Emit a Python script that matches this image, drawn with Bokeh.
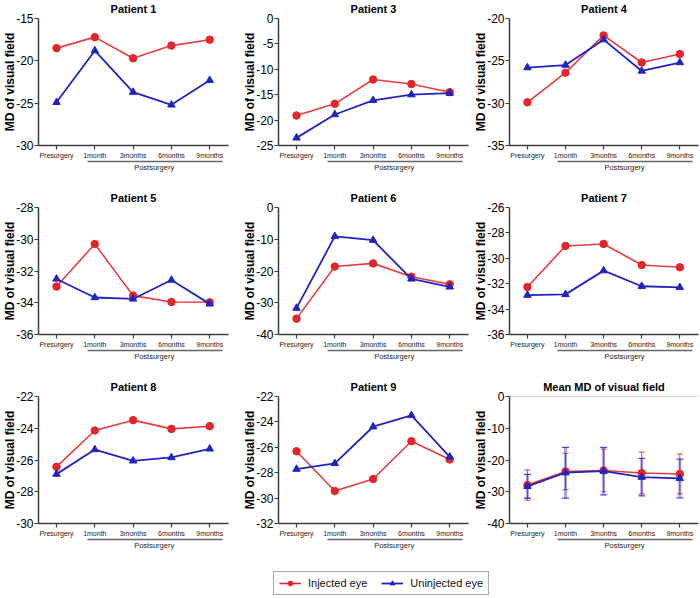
from bokeh.plotting import figure
from bokeh.layouts import gridplot, column
from bokeh.models import (FixedTicker, LinearAxis, Range1d, Legend, LegendItem,
                          Whisker, ColumnDataSource, Span, TeeHead)
from bokeh.embed import file_html
from bokeh.resources import INLINE

# ---------------- data ----------------
timepoints = ["Presurgery", "1month", "3months", "6months", "9months"]
post_label = "Postsurgery"
series_names = ["Injected eye", "Uninjected eye"]

p1_title = "Patient 1"
p1_inj = [-18.5, -17.2, -19.7, -18.2, -17.5]
p1_uninj = [-24.9, -18.8, -23.7, -25.2, -22.3]
p1_yticks = [-30, -25, -20, -15]

p3_title = "Patient 3"
p3_inj = [-19.1, -16.8, -12.0, -12.9, -14.5]
p3_uninj = [-23.5, -18.9, -16.1, -15.0, -14.7]
p3_yticks = [-25, -20, -15, -10, -5, 0]

p4_title = "Patient 4"
p4_inj = [-29.9, -26.4, -22.0, -25.2, -24.2]
p4_uninj = [-25.8, -25.5, -22.5, -26.2, -25.2]
p4_yticks = [-35, -30, -25, -20]

p5_title = "Patient 5"
p5_inj = [-32.98, -30.3, -33.55, -33.95, -33.97]
p5_uninj = [-32.5, -33.67, -33.76, -32.57, -34.07]
p5_yticks = [-36, -34, -32, -30, -28]

p6_title = "Patient 6"
p6_inj = [-35.0, -18.6, -17.6, -21.8, -24.2]
p6_uninj = [-31.7, -9.1, -10.3, -22.5, -25.0]
p6_yticks = [-40, -30, -20, -10, 0]

p7_title = "Patient 7"
p7_inj = [-32.26, -29.03, -28.87, -30.53, -30.71]
p7_uninj = [-32.9, -32.84, -30.97, -32.2, -32.29]
p7_yticks = [-36, -34, -32, -30, -28, -26]

p8_title = "Patient 8"
p8_inj = [-26.43, -24.14, -23.49, -24.04, -23.87]
p8_uninj = [-26.89, -25.34, -26.05, -25.84, -25.30]
p8_yticks = [-30, -28, -26, -24, -22]

p9_title = "Patient 9"
p9_inj = [-26.31, -29.44, -28.5, -25.52, -26.96]
p9_uninj = [-27.72, -27.27, -24.38, -23.49, -26.75]
p9_yticks = [-32, -30, -28, -26, -24, -22]

mean_title = "Mean MD of visual field"
mean_inj = [-27.9, -23.6, -23.3, -24.1, -24.4]
mean_inj_sd = [4.8, 5.7, 6.7, 6.6, 6.3]
mean_uninj = [-28.3, -24.0, -23.5, -25.4, -25.8]
mean_uninj_sd = [3.75, 8.0, 7.5, 5.9, 6.1]
mean_yticks = [-40, -30, -20, -10, 0]

# ---------------- style ----------------
RED = "#e3262b"
BLUE = "#2323c0"
AXIS = "#3c3c3c"
FONT = "Liberation Sans"
XPOS = list(range(len(timepoints)))
COL_W = [240, 231, 228]
COL_R = [12, 3, 1]


def make_panel(title, inj, uninj, yticks, col, inj_sd=None, uninj_sd=None):
    p = figure(width=COL_W[col], height=189, output_backend="svg", toolbar_location=None,
               x_range=Range1d(-0.47, 4.49), y_range=Range1d(yticks[0], yticks[-1]),
               min_border_left=37, min_border_right=COL_R[col], min_border_top=18,
               min_border_bottom=44, title=title)
    p.title.align = "center"
    p.title.vertical_align = "top"
    p.title.text_font = FONT
    p.title.text_font_size = "11px"
    p.title.text_font_style = "bold"
    p.title.text_color = "black"
    p.title.standoff = 3
    p.outline_line_color = None
    p.grid.visible = False
    p.background_fill_color = "white"
    p.border_fill_color = "white"

    # category axis
    xa = p.xaxis[0]
    xa.ticker = FixedTicker(ticks=XPOS)
    xa.major_label_overrides = {i: t for i, t in enumerate(timepoints)}
    xa.major_label_text_font = FONT
    xa.major_label_text_font_size = "7px"
    xa.major_label_text_color = "#222"
    xa.major_label_standoff = 2
    xa.major_tick_out = 4
    xa.major_tick_in = 0
    xa.minor_tick_line_color = None
    xa.axis_line_color = AXIS
    xa.axis_line_width = 1.5
    xa.major_tick_line_color = AXIS
    xa.major_tick_line_width = 1.2

    # postsurgery bracket axis
    mid = 2.55
    pa = LinearAxis(ticker=FixedTicker(ticks=[mid]),
                    major_label_overrides={mid: post_label},
                    bounds=(0.8, 4.33), major_tick_out=0, major_tick_in=0,
                    minor_tick_line_color=None, axis_line_color="#666",
                    axis_line_width=1.5, major_label_standoff=1,
                    major_label_text_font=FONT, major_label_text_font_size="7.5px",
                    major_label_text_color="#222")
    p.add_layout(pa, "below")

    ya = p.yaxis[0]
    ya.ticker = FixedTicker(ticks=yticks)
    ya.major_label_overrides = {t: str(t) for t in yticks}
    ya.major_label_text_font = FONT
    ya.major_label_text_font_size = "12px"
    ya.major_label_text_color = "black"
    ya.major_label_standoff = 1
    ya.major_tick_out = 4
    ya.major_tick_in = 0
    ya.minor_tick_line_color = None
    ya.axis_line_color = AXIS
    ya.axis_line_width = 1.5
    ya.major_tick_line_color = AXIS
    ya.major_tick_line_width = 1.2
    ya.axis_label = "MD of visual field"
    ya.axis_label_text_font = FONT
    ya.axis_label_text_font_size = "12px"
    ya.axis_label_text_font_style = "bold"
    ya.axis_label_text_color = "black"
    ya.axis_label_standoff = -4

    if inj_sd is not None:
        p.add_layout(Span(location=0, dimension="width", line_dash="2 2",
                          line_color="#666", line_width=1))
        src_u = ColumnDataSource(dict(x=XPOS,
                                      upper=[m + s for m, s in zip(uninj, uninj_sd)],
                                      lower=[m - s for m, s in zip(uninj, uninj_sd)]))
        src_i = ColumnDataSource(dict(x=XPOS,
                                      upper=[m + s for m, s in zip(inj, inj_sd)],
                                      lower=[m - s for m, s in zip(inj, inj_sd)]))
        p.add_layout(Whisker(base="x", upper="upper", lower="lower", source=src_i,
                             line_color=RED, line_width=1, line_alpha=0.85,
                             upper_head=TeeHead(size=6, line_color=RED, line_width=1.2, line_alpha=0.7),
                             lower_head=TeeHead(size=6, line_color=RED, line_width=1.2, line_alpha=0.7)))
        p.add_layout(Whisker(base="x", upper="upper", lower="lower", source=src_u,
                             line_color=BLUE, line_width=3, line_alpha=0.4,
                             upper_head=TeeHead(size=7, line_color=BLUE, line_width=1.3, line_alpha=0.8),
                             lower_head=TeeHead(size=7, line_color=BLUE, line_width=1.3, line_alpha=0.8)))

    p.line(XPOS, inj, line_color=RED, line_width=1.6, line_alpha=0.9)
    p.scatter(XPOS, inj, marker="circle", size=7.5, fill_color=RED, line_color=RED)
    p.line(XPOS, uninj, line_color=BLUE, line_width=1.8)
    p.scatter(XPOS, uninj, marker="triangle", size=7.5, fill_color=BLUE, line_color=BLUE)
    return p


panels = [
    make_panel(p1_title, p1_inj, p1_uninj, p1_yticks, 0),
    make_panel(p3_title, p3_inj, p3_uninj, p3_yticks, 1),
    make_panel(p4_title, p4_inj, p4_uninj, p4_yticks, 2),
    make_panel(p5_title, p5_inj, p5_uninj, p5_yticks, 0),
    make_panel(p6_title, p6_inj, p6_uninj, p6_yticks, 1),
    make_panel(p7_title, p7_inj, p7_uninj, p7_yticks, 2),
    make_panel(p8_title, p8_inj, p8_uninj, p8_yticks, 0),
    make_panel(p9_title, p9_inj, p9_uninj, p9_yticks, 1),
    make_panel(mean_title, mean_inj, mean_uninj, mean_yticks, 2, mean_inj_sd, mean_uninj_sd),
]

grid = gridplot([panels[0:3], panels[3:6], panels[6:9]], toolbar_location=None)

# legend strip
lf = figure(width=699, height=30, output_backend="svg", toolbar_location=None,
            x_range=Range1d(0, 1), y_range=Range1d(0, 1),
            min_border=0, min_border_left=0, min_border_right=0,
            min_border_top=0, min_border_bottom=0)
lf.axis.visible = False
lf.grid.visible = False
lf.outline_line_color = None
nan = float("nan")
r1 = lf.line([nan], [nan], line_color=RED, line_width=1.6)
r2 = lf.scatter([nan], [nan], marker="circle", size=7, fill_color=RED, line_color=RED)
r3 = lf.line([nan], [nan], line_color=BLUE, line_width=1.8)
r4 = lf.scatter([nan], [nan], marker="triangle", size=7, fill_color=BLUE, line_color=BLUE)
leg = Legend(items=[LegendItem(label=series_names[0], renderers=[r1, r2]),
                    LegendItem(label=series_names[1], renderers=[r3, r4])],
             orientation="horizontal", location=(273, 2),
             label_text_font=FONT, label_text_font_size="11px", label_text_color="#111",
             border_line_color="#555", border_line_width=1, padding=5, spacing=14,
             margin=0, glyph_width=22, glyph_height=12, label_standoff=7,
             label_height=12, background_fill_alpha=1)
lf.add_layout(leg, "center")

layout = column(grid, lf)

open("out.html", "w").write(file_html(layout, INLINE))
